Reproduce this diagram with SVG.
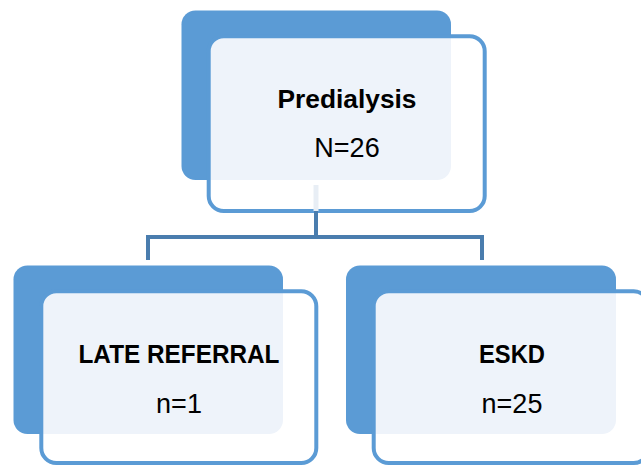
<svg xmlns="http://www.w3.org/2000/svg" width="641" height="465" viewBox="0 0 641 465">
<style>
.back{fill:#5B9BD5}
.front{fill:#FFFFFF}
.light{fill:#EEF3FA}
.frame{fill:none;stroke:#5B9BD5;stroke-width:4}
.t{font-family:"Liberation Sans",Arial,sans-serif;font-size:27px;fill:#000;text-anchor:middle}
.b{font-weight:bold;font-size:25.5px}
.conn{fill:none;stroke:#4A7DAE;stroke-width:4}
</style>
<defs>
<clipPath id="c0"><rect x="181.5" y="10.5" width="269.5" height="169.5" rx="14"/></clipPath>
<clipPath id="c1"><rect x="13.5" y="265.5" width="269.5" height="168.5" rx="14"/></clipPath>
<clipPath id="c2"><rect x="346" y="265.5" width="270" height="168.5" rx="14"/></clipPath>
</defs>
<rect width="641" height="465" fill="#FFFFFF"/>
<g id="node-predialysis">
<rect class="back" x="181.5" y="10.5" width="269.5" height="169.5" rx="14"/>
<rect class="front" x="208.7" y="36.3" width="276" height="174.7" rx="15"/>
<rect class="light" x="208.7" y="36.3" width="276" height="174.7" rx="15" clip-path="url(#c0)"/>
<rect class="frame" x="208.7" y="36.3" width="276" height="174.7" rx="15"/>
<text class="t b" x="347" y="108" textLength="139" lengthAdjust="spacingAndGlyphs">Predialysis</text>
<text class="t" x="347" y="157">N=26</text>
</g>
<g id="node-late-referral">
<rect class="back" x="13.5" y="265.5" width="269.5" height="168.5" rx="14"/>
<rect class="front" x="41.3" y="291.3" width="275" height="171.7" rx="15"/>
<rect class="light" x="41.3" y="291.3" width="275" height="171.7" rx="15" clip-path="url(#c1)"/>
<rect class="frame" x="41.3" y="291.3" width="275" height="171.7" rx="15"/>
<text class="t b" x="179" y="363" textLength="201" lengthAdjust="spacingAndGlyphs">LATE REFERRAL</text>
<text class="t" x="179" y="412.5">n=1</text>
</g>
<g id="node-eskd">
<rect class="back" x="346" y="265.5" width="270" height="168.5" rx="14"/>
<rect class="front" x="373.7" y="291.3" width="275" height="171.7" rx="15"/>
<rect class="light" x="373.7" y="291.3" width="275" height="171.7" rx="15" clip-path="url(#c2)"/>
<rect class="frame" x="373.7" y="291.3" width="275" height="171.7" rx="15"/>
<text class="t b" x="512" y="363" textLength="66" lengthAdjust="spacingAndGlyphs">ESKD</text>
<text class="t" x="512" y="412.5">n=25</text>
</g>
<g id="connectors">
<line x1="316" y1="185" x2="316" y2="211" stroke="#E8EEF5" stroke-width="5"/>
<path class="conn" d="M316 211 V237 M148 260 V237 H482 V260"/>
</g>
</svg>
